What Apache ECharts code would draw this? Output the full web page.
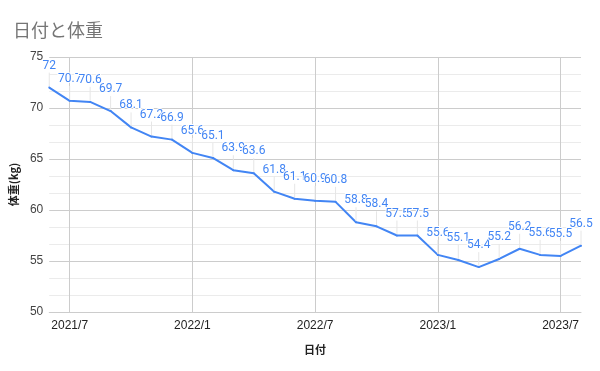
<!DOCTYPE html>
<html>
<head>
<meta charset="utf-8">
<script src="https://cdn.jsdelivr.net/npm/echarts@6/dist/echarts.min.js"></script>
<style>
html,body{margin:0;padding:0;background:#fff;}
#chart{width:600px;height:371px;}
</style>
</head>
<body>
<div id="chart"></div>
<script>
const months = ["2021/6","2021/7","2021/8","2021/9","2021/10","2021/11","2021/12",
  "2022/1","2022/2","2022/3","2022/4","2022/5","2022/6","2022/7","2022/8","2022/9","2022/10","2022/11","2022/12",
  "2023/1","2023/2","2023/3","2023/4","2023/5","2023/6","2023/7","2023/8"];
const weights = [72, 70.7, 70.6, 69.7, 68.1, 67.2, 66.9, 65.6, 65.1, 63.9, 63.6, 61.8, 61.1, 60.9, 60.8,
  58.8, 58.4, 57.5, 57.5, 55.6, 55.1, 54.4, 55.2, 56.2, 55.6, 55.5, 56.5];
const xTickLabels = ["2021/7","2022/1","2022/7","2023/1","2023/7"];
const yTicks = [50, 55, 60, 65, 70, 75];

const chart = echarts.init(document.getElementById('chart'), null, {renderer:'canvas'});
const isTick = (i) => xTickLabels.indexOf(months[i]) >= 0;
chart.setOption({
  animation: false,
  backgroundColor: '#fff',
  title: {
    text: '日付と体重',
    left: 8, top: 16,
    textStyle: {fontFamily: 'Noto Sans CJK JP', fontSize: 18, fontWeight: 'normal', color: '#757575'}
  },
  grid: {left: 48, right: 19, top: 57, bottom: 59, containLabel: false},
  xAxis: {
    type: 'category',
    data: months,
    boundaryGap: false,
    name: '日付',
    nameLocation: 'middle',
    nameGap: 32,
    nameTextStyle: {fontFamily: 'Noto Sans CJK JP', fontSize: 11, fontWeight: 'bold', color: '#222'},
    axisLine: {show: true, lineStyle: {color: '#ccc', width: 1}},
    axisTick: {show: false},
    axisLabel: {
      interval: (i) => isTick(i),
      formatter: (v) => v,
      margin: 8,
      fontFamily: 'Liberation Sans, Arial', fontSize: 12, color: '#222'
    },
    splitLine: {show: true, interval: (i) => isTick(i), lineStyle: {color: '#ccc', width: 1}}
  },
  yAxis: {
    type: 'value',
    min: yTicks[0], max: yTicks[yTicks.length - 1], interval: 5,
    name: '体重(kg)',
    nameLocation: 'middle',
    nameGap: 27,
    nameTextStyle: {fontFamily: 'Noto Sans CJK JP', fontSize: 11, fontWeight: 'bold', color: '#222'},
    axisLine: {show: false},
    axisTick: {show: false},
    axisLabel: {margin: 6, fontFamily: 'Liberation Sans, Arial', fontSize: 12, color: '#444'},
    splitLine: {lineStyle: {color: '#ccc', width: 1}},
    minorTick: {show: false, splitNumber: 3},
    minorSplitLine: {show: true, lineStyle: {color: '#ebebeb', width: 1}}
  },
  series: [{
    type: 'line',
    data: weights,
    symbol: 'circle',
    symbolSize: 2,
    showSymbol: true,
    itemStyle: {color: '#4285F4'},
    lineStyle: {color: '#4285F4', width: 2},
    label: {
      show: true,
      position: 'top',
      distance: 3,
      fontFamily: 'Roboto, Arial',
      fontSize: 12,
      color: '#4285F4',
      textBorderColor: '#fff',
      textBorderWidth: 2
    },
    labelLayout: {dy: -12},
    labelLine: {show: true, lineStyle: {color: '#e6e6e6', width: 1}}
  }]
});
</script>
</body>
</html>
